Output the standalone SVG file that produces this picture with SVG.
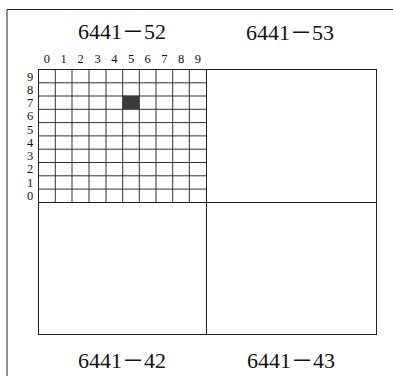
<svg xmlns="http://www.w3.org/2000/svg" width="393" height="376" viewBox="0 0 393 376">
<style>
.ln{stroke:#222;stroke-width:1;fill:none}
.gr{stroke:#333;stroke-width:1}
.big{font-family:"Liberation Serif","Noto Sans CJK SC",serif;font-size:22px;fill:#111;text-anchor:middle}
.sm{font-family:"Liberation Serif",serif;font-size:12.5px;fill:#111;text-anchor:middle}
</style>
<rect width="393" height="376" fill="#fff"/>
<g id="frame">
<path class="ln" d="M7,376 V9.5 H393"/>
</g>
<g id="sheet-52">
<text class="big" x="122" y="39">6441－52</text>
<rect x="122.7" y="95.7" width="16.6" height="13.3" fill="#3a3a3a"/>
<g class="gr">
<line x1="38.5" y1="69.5" x2="38.5" y2="202.5"/>
<line x1="55.3" y1="69.5" x2="55.3" y2="202.5"/>
<line x1="72" y1="69.5" x2="72" y2="202.5"/>
<line x1="89" y1="69.5" x2="89" y2="202.5"/>
<line x1="106" y1="69.5" x2="106" y2="202.5"/>
<line x1="122.7" y1="69.5" x2="122.7" y2="202.5"/>
<line x1="139.3" y1="69.5" x2="139.3" y2="202.5"/>
<line x1="156" y1="69.5" x2="156" y2="202.5"/>
<line x1="172.7" y1="69.5" x2="172.7" y2="202.5"/>
<line x1="189.3" y1="69.5" x2="189.3" y2="202.5"/>
<line x1="38.5" y1="82.8" x2="206.5" y2="82.8"/>
<line x1="38.5" y1="96" x2="206.5" y2="96"/>
<line x1="38.5" y1="109.3" x2="206.5" y2="109.3"/>
<line x1="38.5" y1="122.6" x2="206.5" y2="122.6"/>
<line x1="38.5" y1="135.9" x2="206.5" y2="135.9"/>
<line x1="38.5" y1="149.2" x2="206.5" y2="149.2"/>
<line x1="38.5" y1="162.5" x2="206.5" y2="162.5"/>
<line x1="38.5" y1="175.8" x2="206.5" y2="175.8"/>
<line x1="38.5" y1="189.1" x2="206.5" y2="189.1"/>
</g>
<g class="sm">
<text x="46.8" y="62.5">0</text>
<text x="63.6" y="62.5">1</text>
<text x="80.5" y="62.5">2</text>
<text x="97.5" y="62.5">3</text>
<text x="114.3" y="62.5">4</text>
<text x="131" y="62.5">5</text>
<text x="147.7" y="62.5">6</text>
<text x="164.3" y="62.5">7</text>
<text x="181" y="62.5">8</text>
<text x="197.8" y="62.5">9</text>
<text x="30" y="80.5">9</text>
<text x="30" y="93.5">8</text>
<text x="30" y="107">7</text>
<text x="30" y="120">6</text>
<text x="30" y="133.5">5</text>
<text x="30" y="146.5">4</text>
<text x="30" y="160">3</text>
<text x="30" y="173">2</text>
<text x="30" y="186.5">1</text>
<text x="30" y="199.5">0</text>
</g>
</g>
<g id="sheet-53">
<text class="big" x="290" y="40">6441－53</text>
</g>
<g id="sheet-42">
<text class="big" x="122" y="368">6441－42</text>
</g>
<g id="sheet-43">
<text class="big" x="291" y="368">6441－43</text>
</g>
<g id="map-outline">
<rect class="ln" x="38.5" y="69.5" width="338" height="265"/>
<line class="ln" x1="206.5" y1="69.5" x2="206.5" y2="334.5"/>
<line class="ln" x1="38.5" y1="202.5" x2="376.5" y2="202.5"/>
</g>
</svg>
